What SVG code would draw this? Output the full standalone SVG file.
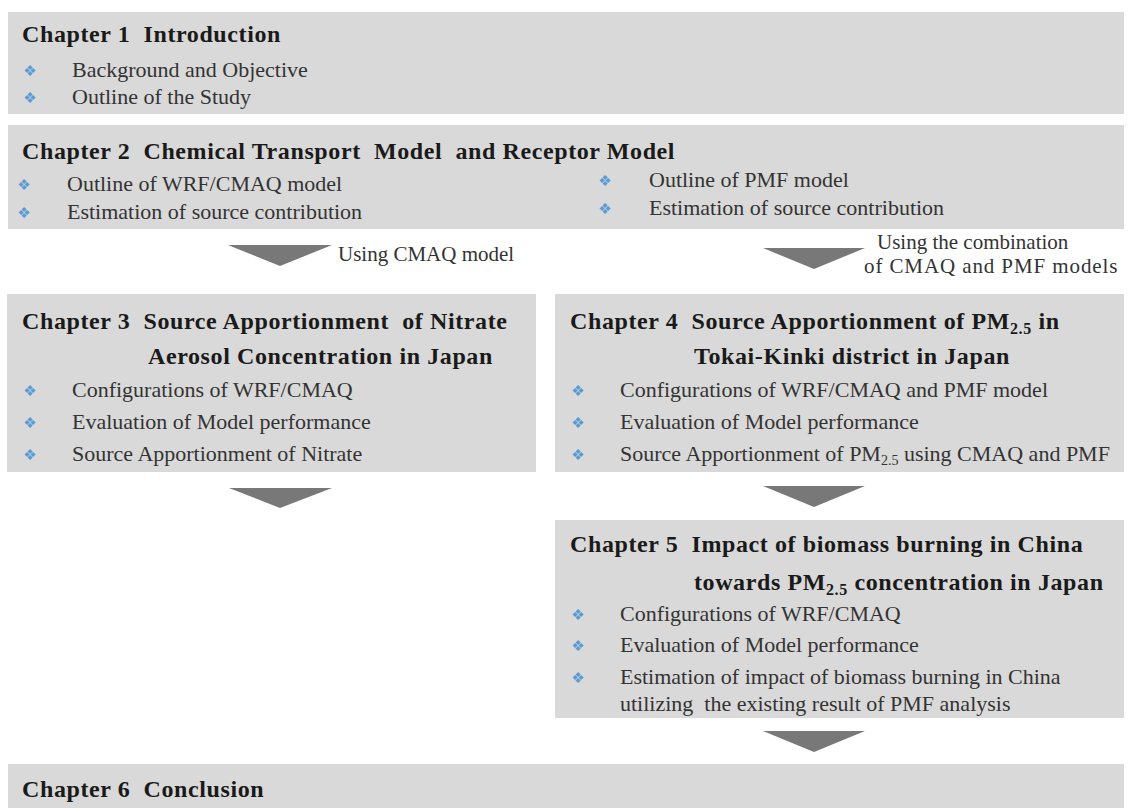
<svg xmlns="http://www.w3.org/2000/svg" width="1129" height="808" viewBox="0 0 1129 808" xml:space="preserve">
<style>
text{white-space:pre}
.box{fill:#d9d9d9}
.t{font-family:"Liberation Serif","Times New Roman",serif;font-weight:bold;font-size:24px;fill:#1a1a1a;letter-spacing:0.6px}
.b{font-family:"Liberation Serif","Times New Roman",serif;font-size:22px;fill:#333}
.u{font-family:"DejaVu Sans",sans-serif;font-size:15px;fill:#5b9bd5;text-anchor:middle}
.arr{fill:#787878}
.lb{font-family:"Liberation Serif","Times New Roman",serif;font-size:21px;fill:#333}
</style>
<rect width="1129" height="808" fill="#fff"/>
<g id="ch1">
<rect class="box" x="8" y="12" width="1116" height="102"/>
<text class="t" x="22" y="42">Chapter 1  Introduction</text>
<text class="u" x="30" y="76">❖</text><text class="b" x="72" y="77">Background and Objective</text>
<text class="u" x="30" y="103">❖</text><text class="b" x="72" y="104">Outline of the Study</text>
</g>
<g id="ch2">
<rect class="box" x="8" y="125" width="1116" height="104"/>
<text class="t" x="22" y="159" letter-spacing="0.75">Chapter 2  Chemical Transport  Model  and Receptor Model</text>
<text class="u" x="24" y="190">❖</text><text class="b" x="67" y="191">Outline of WRF/CMAQ model</text>
<text class="u" x="24" y="218">❖</text><text class="b" x="67" y="219">Estimation of source contribution</text>
<text class="u" x="605" y="186">❖</text><text class="b" x="649" y="187">Outline of PMF model</text>
<text class="u" x="605" y="214">❖</text><text class="b" x="649" y="215">Estimation of source contribution</text>
</g>
<g id="ch3">
<rect class="box" x="7" y="294" width="529" height="178"/>
<text class="t" x="22" y="329">Chapter 3  Source Apportionment  of Nitrate</text>
<text class="t" x="148" y="364">Aerosol Concentration in Japan</text>
<text class="u" x="30" y="396">❖</text><text class="b" x="72" y="397">Configurations of WRF/CMAQ</text>
<text class="u" x="30" y="428">❖</text><text class="b" x="72" y="429">Evaluation of Model performance</text>
<text class="u" x="30" y="460">❖</text><text class="b" x="72" y="461">Source Apportionment of Nitrate</text>
</g>
<g id="ch4">
<rect class="box" x="555" y="294" width="569" height="178"/>
<text class="t" x="570" y="329">Chapter 4  Source Apportionment of PM<tspan font-size="16" dy="5">2.5</tspan><tspan dy="-5"> in</tspan></text>
<text class="t" x="694" y="364">Tokai-Kinki district in Japan</text>
<text class="u" x="578" y="396">❖</text><text class="b" x="620" y="397">Configurations of WRF/CMAQ and PMF model</text>
<text class="u" x="578" y="428">❖</text><text class="b" x="620" y="429">Evaluation of Model performance</text>
<text class="u" x="578" y="460">❖</text><text class="b" x="620" y="461">Source Apportionment of PM<tspan font-size="14" dy="4">2.5</tspan><tspan dy="-4"> using CMAQ and PMF</tspan></text>
</g>
<g id="ch5">
<rect class="box" x="555" y="520" width="569" height="198"/>
<text class="t" x="570" y="552">Chapter 5  Impact of biomass burning in China</text>
<text class="t" x="694" y="590">towards PM<tspan font-size="16" dy="5">2.5</tspan><tspan dy="-5"> concentration in Japan</tspan></text>
<text class="u" x="578" y="620">❖</text><text class="b" x="620" y="621">Configurations of WRF/CMAQ</text>
<text class="u" x="578" y="651">❖</text><text class="b" x="620" y="652">Evaluation of Model performance</text>
<text class="u" x="578" y="683">❖</text><text class="b" x="620" y="684">Estimation of impact of biomass burning in China</text>
<text class="b" x="620" y="711">utilizing  the existing result of PMF analysis</text>
</g>
<g id="ch6">
<rect class="box" x="8" y="764" width="1116" height="44"/>
<text class="t" x="22" y="797">Chapter 6  Conclusion</text>
</g>
<g id="connectors">
<polygon class="arr" points="228,245 332,245 280,266"/>
<text class="lb" x="338" y="261" font-size="20">Using CMAQ model</text>
<polygon class="arr" points="763,248 865,248 814,269"/>
<text class="lb" x="877" y="249">Using the combination</text>
<text class="lb" x="864" y="273" letter-spacing="0.9">of CMAQ and PMF models</text>
<polygon class="arr" points="229,488 332,488 280,508"/>
<polygon class="arr" points="763,486 865,486 814,507"/>
<polygon class="arr" points="763,731 865,731 814,752"/>
</g>
</svg>
